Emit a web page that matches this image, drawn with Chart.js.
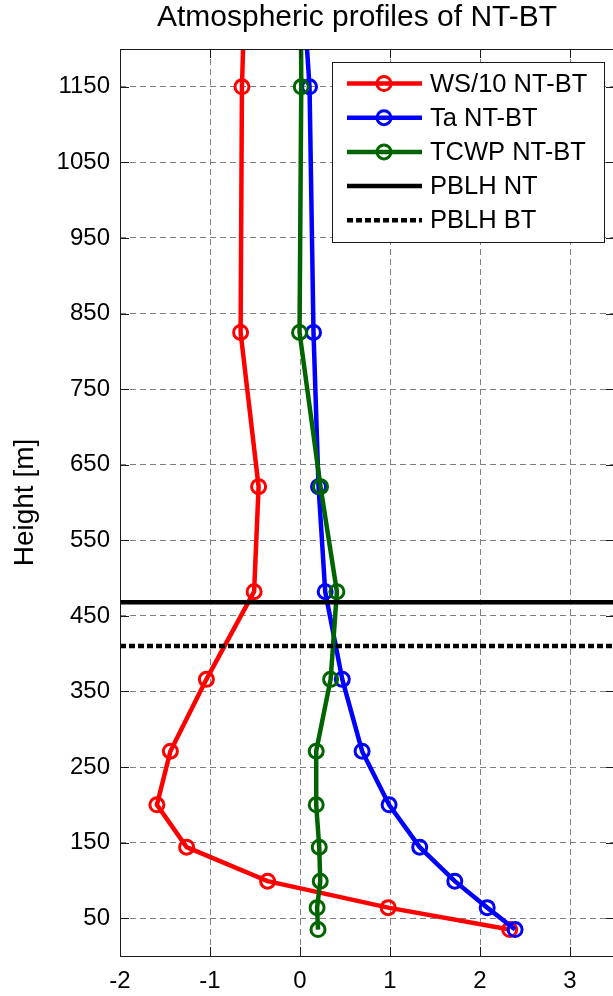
<!DOCTYPE html>
<html>
<head>
<meta charset="utf-8">
<script src="https://cdn.jsdelivr.net/npm/chart.js@4"></script>
<style>
  html, body { margin: 0; padding: 0; background: #fff; overflow: hidden; }
  canvas { display: block; }
</style>
</head>
<body>
<canvas id="profileChart" width="625" height="996" style="width:625px;height:996px"></canvas>
<script>
// heights of the profile points [m]; last one lies above the axis top (line runs off the plot)
const heights = [35, 64, 99, 144, 200, 271, 366, 482, 621, 825, 1150, 1250];
const ws10 = [2.33, 0.98, -0.36, -1.26, -1.59, -1.44, -1.04, -0.51, -0.46, -0.66, -0.645, -0.62];
const ta   = [2.39, 2.08, 1.72, 1.33, 0.99, 0.69, 0.47, 0.28, 0.206, 0.15, 0.106, 0.05];
const tcwp = [0.20, 0.19, 0.225, 0.214, 0.18, 0.18, 0.34, 0.41, 0.228, -0.005, 0.014, 0.01];
const pblhNT = 468;
const pblhBT = 410;
const xLimits = [-2, 3.5];
const yLimits = [0, 1200];
const xTicks = [-2, -1, 0, 1, 2, 3];
const yTicks = [50, 150, 250, 350, 450, 550, 650, 750, 850, 950, 1050, 1150];

const FONT = "'Liberation Sans', Helvetica, Arial, sans-serif";

function profile(values) {
  return heights.map((h, i) => ({ x: values[i], y: h }));
}

function profileSet(label, values, color, order) {
  return {
    label: label,
    data: profile(values),
    showLine: true,
    borderColor: color,
    borderWidth: 4.5,
    tension: 0,
    pointStyle: 'circle',
    pointRadius: 7,
    pointBorderWidth: 3,
    pointBorderColor: color,
    pointBackgroundColor: 'rgba(0,0,0,0)',
    clip: 0,
    order: order
  };
}

function levelSet(label, h, dash, order) {
  return {
    label: label,
    data: xLimits.map(x => ({ x: x, y: h })),
    showLine: true,
    borderColor: '#000',
    borderWidth: 4.5,
    borderDash: dash,
    pointRadius: 0,
    clip: 0,
    order: order
  };
}

// title, axes box with inward ticks, and the in-plot legend
const decorations = {
  id: 'decorations',
  afterDatasetsDraw(chart) {
    const ctx = chart.ctx;
    const a = chart.chartArea;
    const xs = chart.scales.x, ys = chart.scales.y;
    const tl = 9;
    ctx.save();
    ctx.strokeStyle = '#1a1a1a';
    ctx.lineWidth = 1;
    ctx.strokeRect(a.left + 0.5, a.top + 0.5, a.right - a.left, a.bottom - a.top);
    ctx.beginPath();
    xTicks.forEach(v => {
      const px = Math.round(xs.getPixelForValue(v)) + 0.5;
      ctx.moveTo(px, a.bottom); ctx.lineTo(px, a.bottom - tl);
      ctx.moveTo(px, a.top); ctx.lineTo(px, a.top + tl);
    });
    yTicks.forEach(v => {
      const py = Math.round(ys.getPixelForValue(v)) + 0.5;
      ctx.moveTo(a.left, py); ctx.lineTo(a.left + tl, py);
      ctx.moveTo(a.right, py); ctx.lineTo(a.right - tl, py);
    });
    ctx.stroke();
    ctx.restore();
  },
  afterDraw(chart) {
    const ctx = chart.ctx;
    ctx.save();
    // title
    ctx.fillStyle = '#000';
    ctx.font = '30px ' + FONT;
    ctx.textAlign = 'center';
    ctx.textBaseline = 'alphabetic';
    ctx.fillText('Atmospheric profiles of NT-BT', 357, 26);

    // legend
    const box = { x: 332, y: 62, w: 272, h: 180 };
    ctx.fillStyle = '#fff';
    ctx.fillRect(box.x, box.y, box.w, box.h);
    ctx.strokeStyle = '#1a1a1a';
    ctx.lineWidth = 1;
    ctx.strokeRect(box.x + 0.5, box.y + 0.5, box.w, box.h);
    ctx.font = '25.5px ' + FONT;
    ctx.textAlign = 'left';
    ctx.textBaseline = 'middle';
    chart.data.datasets.forEach((ds, i) => {
      const y = 83.5 + i * 34.2;
      ctx.save();
      ctx.strokeStyle = ds.borderColor;
      ctx.lineWidth = ds.borderWidth;
      ctx.setLineDash(ds.borderDash || []);
      ctx.beginPath();
      ctx.moveTo(347, y); ctx.lineTo(422, y);
      ctx.stroke();
      if (ds.pointRadius > 0) {
        ctx.setLineDash([]);
        ctx.lineWidth = ds.pointBorderWidth;
        ctx.beginPath();
        ctx.arc(384, y, ds.pointRadius, 0, Math.PI * 2);
        ctx.stroke();
      }
      ctx.restore();
      ctx.fillStyle = '#000';
      ctx.fillText(ds.label, 430, y + 1);
    });
    ctx.restore();
  }
};

const ctx = document.getElementById('profileChart').getContext('2d');
new Chart(ctx, {
  type: 'scatter',
  data: {
    datasets: [
      profileSet('WS/10 NT-BT', ws10, '#ff0000', 5),
      profileSet('Ta NT-BT', ta, '#0000ff', 4),
      profileSet('TCWP NT-BT', tcwp, '#006400', 3),
      levelSet('PBLH NT', pblhNT, [], 2),
      levelSet('PBLH BT', pblhBT, [6, 3], 1)
    ]
  },
  options: {
    responsive: false,
    animation: false,
    devicePixelRatio: 1,
    events: [],
    layout: { padding: { top: 49, right: 2, bottom: 0, left: 0 } },
    plugins: {
      legend: { display: false },
      title: { display: false },
      tooltip: { enabled: false }
    },
    scales: {
      x: {
        type: 'linear',
        min: xLimits[0],
        max: xLimits[1],
        afterBuildTicks: s => { s.ticks = xTicks.map(v => ({ value: v })); },
        afterFit: s => { s.height = 40; },
        grid: { color: '#808080', lineWidth: 1, drawTicks: false },
        border: { display: false, dash: [6, 4] },
        ticks: { color: '#000', padding: 11, maxRotation: 0, font: { family: FONT, size: 24 },
                 callback: v => String(v) }
      },
      y: {
        type: 'linear',
        min: yLimits[0],
        max: yLimits[1],
        afterBuildTicks: s => { s.ticks = yTicks.map(v => ({ value: v })); },
        afterFit: s => { s.width = 120; },
        grid: { color: '#808080', lineWidth: 1, drawTicks: false },
        border: { display: false, dash: [6, 4] },
        ticks: { color: '#000', padding: 10, font: { family: FONT, size: 24 },
                 callback: v => String(v) },
        title: {
          display: true,
          text: 'Height [m]',
          color: '#000',
          font: { family: FONT, size: 28 },
          padding: { top: 8, bottom: 0 }
        }
      }
    }
  },
  plugins: [decorations]
});
</script>
</body>
</html>
